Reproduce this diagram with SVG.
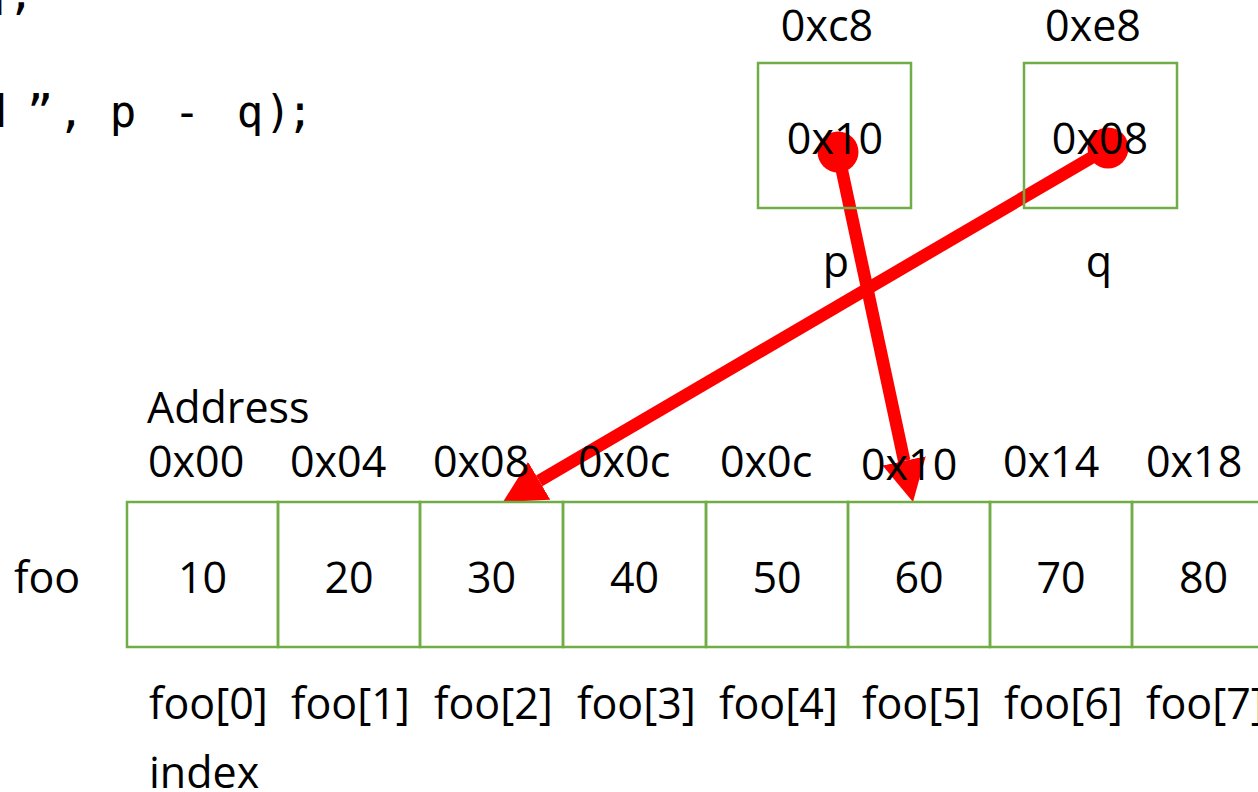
<svg xmlns="http://www.w3.org/2000/svg" width="1258" height="792" viewBox="0 0 1258 792">
  <style>
    .lbl { font-family: "Open Sans", "Liberation Sans", sans-serif; font-size: 43px; fill: #000; }
    .mid { text-anchor: middle; }
    .code { font-family: "DejaVu Sans Mono", "Liberation Mono", monospace; font-size: 44px; fill: #000; text-anchor: middle; }
    .box { fill: none; stroke: #70AD47; stroke-width: 2.5; }
    .ptr { stroke: #FF0000; stroke-width: 12.5; fill: none; marker-end: url(#head); }
    .dot { fill: #FF0000; }
  </style>
  <defs>
    <marker id="head" markerUnits="userSpaceOnUse" viewBox="0 0 42 44" refX="0" refY="22" markerWidth="42" markerHeight="44" orient="auto">
      <path d="M0,0 L42,22 L0,44 Z" fill="#FF0000"/>
    </marker>
  </defs>

  <rect width="1258" height="792" fill="#FFFFFF"/>

  <!-- source code fragment -->
  <g id="code">
    <text class="code" x="-2 21" y="9">],</text>
    <text class="code" x="-6 40 71 97 123 155 187 218 250 278 300" y="127">d”, p - q);</text>
  </g>

  <!-- pointer connectors -->
  <g id="connectors">
    <line class="ptr" x1="838" y1="152" x2="904.2" y2="460.9"/>
    <line class="ptr" x1="1108" y1="148" x2="539.2" y2="480.8"/>
    <circle class="dot" cx="838" cy="152" r="20.5"/>
    <circle class="dot" cx="1108" cy="148" r="20.5"/>
  </g>

  <!-- pointer variables -->
  <g id="ptr-p">
    <text class="lbl mid" x="827" y="41">0xc8</text>
    <rect class="box" x="758" y="63" width="153" height="145"/>
    <text class="lbl mid" x="835" y="154">0x10</text>
    <text class="lbl mid" x="836" y="277">p</text>
  </g>
  <g id="ptr-q">
    <text class="lbl mid" x="1093" y="41">0xe8</text>
    <rect class="box" x="1024" y="63" width="153" height="145"/>
    <text class="lbl mid" x="1100" y="154">0x08</text>
    <text class="lbl mid" x="1099" y="277">q</text>
  </g>

  <!-- array foo -->
  <g id="array-foo">
    <text class="lbl" x="147" y="423">Address</text>
    <text class="lbl" x="14" y="593">foo</text>
    <text class="lbl" x="149" y="788">index</text>
  </g>
  <g id="foo-0">
    <text class="lbl" x="148" y="477">0x00</text>
    <rect class="box" x="127" y="502" width="151" height="145"/>
    <text class="lbl mid" x="202.5" y="593">10</text>
    <text class="lbl" x="149" y="719">foo[0]</text>
  </g>
  <g id="foo-1">
    <text class="lbl" x="290" y="477">0x04</text>
    <rect class="box" x="278" y="502" width="142" height="145"/>
    <text class="lbl mid" x="349" y="593">20</text>
    <text class="lbl" x="291" y="719">foo[1]</text>
  </g>
  <g id="foo-2">
    <text class="lbl" x="433" y="477">0x08</text>
    <rect class="box" x="420" y="502" width="143" height="145"/>
    <text class="lbl mid" x="491.5" y="593">30</text>
    <text class="lbl" x="434" y="719">foo[2]</text>
  </g>
  <g id="foo-3">
    <text class="lbl" x="578" y="477">0x0c</text>
    <rect class="box" x="563" y="502" width="143" height="145"/>
    <text class="lbl mid" x="634.5" y="593">40</text>
    <text class="lbl" x="577" y="719">foo[3]</text>
  </g>
  <g id="foo-4">
    <text class="lbl" x="720" y="477">0x0c</text>
    <rect class="box" x="706" y="502" width="142" height="145"/>
    <text class="lbl mid" x="777" y="593">50</text>
    <text class="lbl" x="719" y="719">foo[4]</text>
  </g>
  <g id="foo-5">
    <text class="lbl" x="861" y="480">0x10</text>
    <rect class="box" x="848" y="502" width="142" height="145"/>
    <text class="lbl mid" x="919" y="593">60</text>
    <text class="lbl" x="862" y="719">foo[5]</text>
  </g>
  <g id="foo-6">
    <text class="lbl" x="1003" y="477">0x14</text>
    <rect class="box" x="990" y="502" width="142" height="145"/>
    <text class="lbl mid" x="1061" y="593">70</text>
    <text class="lbl" x="1004" y="719">foo[6]</text>
  </g>
  <g id="foo-7">
    <text class="lbl" x="1146" y="477">0x18</text>
    <rect class="box" x="1132" y="502" width="143" height="145"/>
    <text class="lbl mid" x="1203.5" y="593">80</text>
    <text class="lbl" x="1146" y="719">foo[7]</text>
  </g>
</svg>
